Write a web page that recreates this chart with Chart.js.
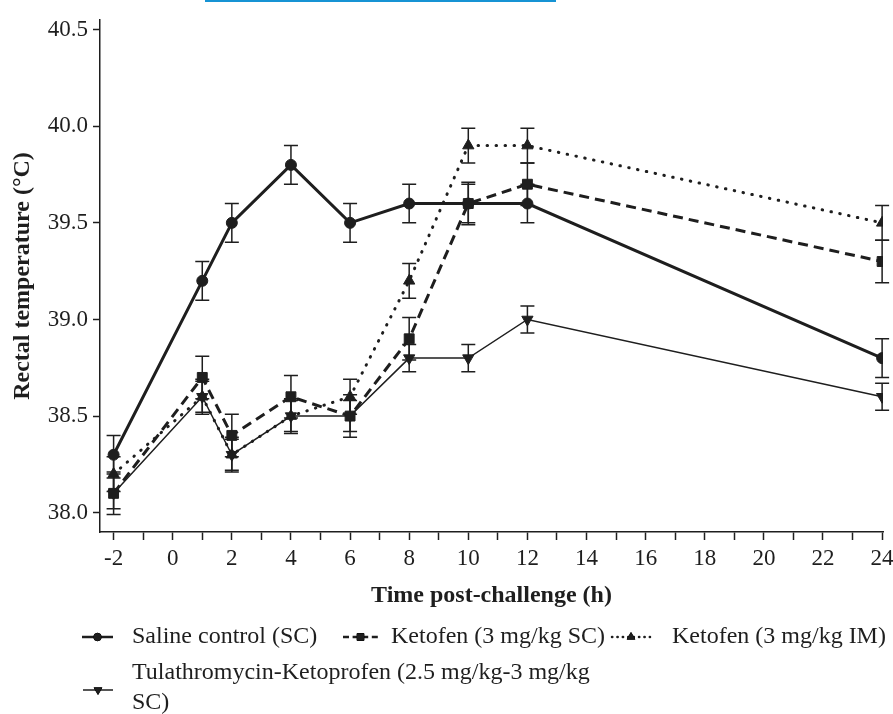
<!DOCTYPE html>
<html>
<head>
<meta charset="utf-8">
<script src="https://cdn.jsdelivr.net/npm/chart.js@4"></script>
<style>
  html, body { margin: 0; padding: 0; background: #fff; }
  #wrap { position: relative; width: 893px; height: 714px; }
  #topline { position: absolute; left: 205px; top: 0; width: 351px; height: 2px; background: #1693d4; }
</style>
</head>
<body>
<div id="wrap">
  <canvas id="myChart" width="893" height="714"></canvas>
  <div id="topline"></div>
</div>
<script>
const times = [-2, 1, 2, 4, 6, 8, 10, 12, 24];
const xTickValues = [-2, -1, 0, 1, 2, 3, 4, 5, 6, 7, 8, 9, 10, 11, 12, 13, 14, 15, 16, 17, 18, 19, 20, 21, 22, 23, 24];
const yTickValues = [38.0, 38.5, 39.0, 39.5, 40.0, 40.5];

const labels = [
  'Saline control (SC)',
  'Ketofen (3 mg/kg SC)',
  'Ketofen (3 mg/kg IM)',
  'Tulathromycin-Ketoprofen (2.5 mg/kg-3 mg/kg SC)'
];

const saline = [38.3, 39.2, 39.5, 39.8, 39.5, 39.6, 39.6, 39.6, 38.8];
const salineErr = [0.1, 0.1, 0.1, 0.1, 0.1, 0.1, 0.1, 0.1, 0.1];
const ketofenSC = [38.1, 38.7, 38.4, 38.6, 38.5, 38.9, 39.6, 39.7, 39.3];
const ketofenSCErr = [0.11, 0.11, 0.11, 0.11, 0.11, 0.11, 0.11, 0.11, 0.11];
const ketofenIM = [38.2, 38.6, 38.3, 38.5, 38.6, 39.2, 39.9, 39.9, 39.5];
const ketofenIMErr = [0.09, 0.09, 0.09, 0.09, 0.09, 0.09, 0.09, 0.09, 0.09];
const tula = [38.1, 38.6, 38.3, 38.5, 38.5, 38.8, 38.8, 39.0, 38.6];
const tulaErr = [0.08, 0.08, 0.08, 0.08, 0.08, 0.07, 0.07, 0.07, 0.07];

const ink = '#1e1e1e';
const serif = "'Liberation Serif', 'DejaVu Serif', serif";

const toPoints = vals => vals.map((v, i) => ({ x: times[i], y: v }));

const datasets = [
  {
    label: labels[0], data: toPoints(saline), errors: salineErr,
    borderColor: ink, backgroundColor: ink, borderWidth: 3,
    pointStyle: 'circle', pointRadius: 5.5, pointRotation: 0
  },
  {
    label: labels[1], data: toPoints(ketofenSC), errors: ketofenSCErr,
    borderColor: ink, backgroundColor: ink, borderWidth: 3, borderDash: [10, 6],
    pointStyle: 'rect', pointRadius: 7, pointRotation: 0
  },
  {
    label: labels[2], data: toPoints(ketofenIM), errors: ketofenIMErr,
    borderColor: ink, backgroundColor: ink, borderWidth: 3, borderDash: [0.5, 8.5], borderCapStyle: 'round',
    pointStyle: 'triangle', pointRadius: 6.5, pointRotation: 0
  },
  {
    label: labels[3], data: toPoints(tula), errors: tulaErr,
    borderColor: ink, backgroundColor: ink, borderWidth: 1.5,
    pointStyle: 'triangle', pointRadius: 6.5, pointRotation: 180
  }
];

datasets.forEach(d => {
  d.fill = false;
  d.tension = 0;
  d.pointBorderWidth = 1;
  d.pointBorderColor = ink;
  d.pointBackgroundColor = ink;
});

const errorBars = {
  id: 'errorBars',
  beforeDatasetsDraw(chart) {
    const { ctx, scales: { x, y } } = chart;
    ctx.save();
    ctx.strokeStyle = ink;
    ctx.lineWidth = 1.5;
    chart.data.datasets.forEach(ds => {
      ds.data.forEach((p, i) => {
        const px = x.getPixelForValue(p.x);
        const top = y.getPixelForValue(p.y + ds.errors[i]);
        const bot = y.getPixelForValue(p.y - ds.errors[i]);
        ctx.beginPath();
        ctx.moveTo(px, top); ctx.lineTo(px, bot);
        ctx.moveTo(px - 7, top); ctx.lineTo(px + 7, top);
        ctx.moveTo(px - 7, bot); ctx.lineTo(px + 7, bot);
        ctx.stroke();
      });
    });
    ctx.restore();
  }
};

// legend drawn under the chart, laid out like the figure
const legendLayout = [
  { x0: 82, x1: 113, y: 637, tx: 132, lines: ['Saline control (SC)'] },
  { x0: 343, x1: 378, y: 637, tx: 391, lines: ['Ketofen (3 mg/kg SC)'] },
  { x0: 612, x1: 650, y: 637, tx: 672, lines: ['Ketofen (3 mg/kg IM)'] },
  { x0: 83, x1: 113, y: 690, tx: 132, ty: 673, lines: ['Tulathromycin-Ketoprofen (2.5 mg/kg-3 mg/kg', 'SC)'] }
];

const figureLegend = {
  id: 'figureLegend',
  afterDraw(chart) {
    const { ctx } = chart;
    ctx.save();
    ctx.font = '24px ' + serif;
    ctx.fillStyle = ink;
    ctx.textBaseline = 'middle';
    chart.data.datasets.forEach((ds, i) => {
      const L = legendLayout[i];
      ctx.save();
      ctx.strokeStyle = ink;
      ctx.lineWidth = Math.min(ds.borderWidth, 2.5);
      ctx.setLineDash(ds.borderDash ? ds.borderDash.map(v => v * 0.6) : []);
      ctx.lineCap = ds.borderCapStyle || 'butt';
      ctx.beginPath();
      ctx.moveTo(L.x0, L.y); ctx.lineTo(L.x1, L.y);
      ctx.stroke();
      ctx.restore();
      Chart.helpers.drawPoint(ctx, {
        pointStyle: ds.pointStyle, radius: ds.pointRadius * 0.7, rotation: ds.pointRotation,
        borderWidth: 1
      }, (L.x0 + L.x1) / 2, L.y);
      ctx.fill();
      let ty = L.ty || L.y;
      L.lines.forEach(t => { ctx.fillText(t, L.tx, ty); ty += 30; });
    });
    ctx.restore();
  }
};

const config = {
  type: 'line',
  data: { datasets },
  options: {
    responsive: false,
    animation: false,
    layout: { padding: { left: 0, right: 10, top: 20, bottom: 104 } },
    plugins: { legend: { display: false }, tooltip: { enabled: false } },
    scales: {
      x: {
        type: 'linear',
        min: -2.46,
        max: 24.03,
        afterBuildTicks: s => { s.ticks = xTickValues.map(v => ({ value: v })); },
        afterFit: s => { s.height = 78; s.paddingLeft = 0; s.paddingRight = 0; },
        ticks: {
          autoSkip: false,
          maxRotation: 0,
          padding: 5,
          color: ink,
          font: { family: serif, size: 23 },
          callback: v => (v % 2 === 0 ? String(v) : '')
        },
        grid: { drawOnChartArea: false, drawTicks: true, tickLength: 8, tickColor: ink, tickWidth: 1.5 },
        border: { display: true, color: ink, width: 1.5 },
        title: {
          display: true,
          text: 'Time post-challenge (h)',
          color: ink,
          font: { family: serif, size: 24, weight: 'bold' },
          padding: { top: 5, bottom: 0 }
        }
      },
      y: {
        min: 37.9,
        max: 40.55,
        afterBuildTicks: s => { s.ticks = yTickValues.map(v => ({ value: v })); },
        afterFit: s => { s.width = 100; },
        ticks: {
          padding: 5,
          color: ink,
          font: { family: serif, size: 23 },
          callback: v => v.toFixed(1)
        },
        grid: { drawOnChartArea: false, drawTicks: true, tickLength: 7, tickColor: ink, tickWidth: 1.5 },
        border: { display: true, color: ink, width: 1.5 },
        title: {
          display: true,
          text: 'Rectal temperature (°C)',
          color: ink,
          font: { family: serif, size: 24, weight: 'bold' },
          padding: { top: 8, bottom: 0 }
        }
      }
    }
  },
  plugins: [errorBars, figureLegend]
};

const myChart = new Chart(document.getElementById('myChart'), config);
</script>
</body>
</html>
